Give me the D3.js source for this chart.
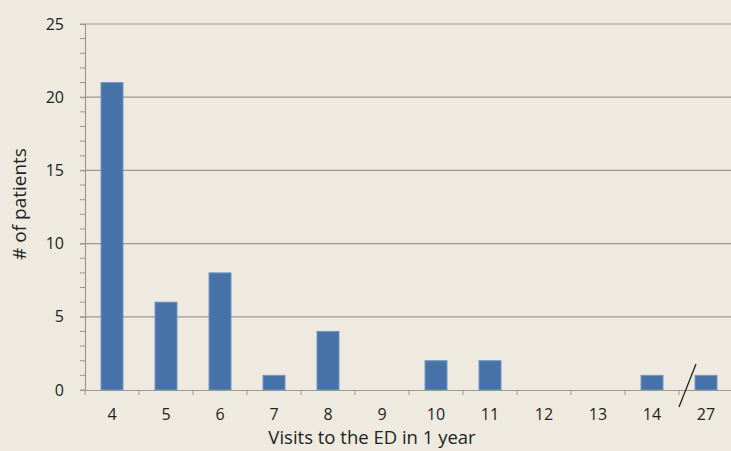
<!DOCTYPE html>
<html>
<head>
<meta charset="utf-8">
<script src="https://cdn.jsdelivr.net/npm/d3@7"></script>
<style>
body { margin: 0; background: #eeeae0; }
svg { display: block; font-family: "Open Sans", sans-serif; }
</style>
</head>
<body>
<svg id="chart" width="731" height="451"></svg>
<script>
// data
var visits = ["4", "5", "6", "7", "8", "9", "10", "11", "12", "13", "14", "27"];
var patients = [21, 6, 8, 1, 4, 0, 2, 2, 0, 0, 1, 1];
var yTicks = [0, 5, 10, 15, 20, 25];

var svg = d3.select("#chart");
var mLeft = 85, mRight = 733, mTop = 24, mBottom = 390;
var axisColor = "#9a9892";

var x = d3.scaleBand().domain(visits).range([mLeft, mRight]);
var y = d3.scaleLinear().domain([0, 25]).range([mBottom, mTop]);

// gridlines
svg.append("g").selectAll("line")
	.data(yTicks.slice(1))
	.enter().append("line")
		.attr("x1", mLeft).attr("x2", 731)
		.attr("y1", function(d) {return y(d);})
		.attr("y2", function(d) {return y(d);})
		.attr("stroke", axisColor)
		.attr("stroke-width", 1.2)
;

// minor ticks on y axis
svg.append("g").selectAll("line")
	.data(d3.range(0, 26))
	.enter().append("line")
		.attr("x1", mLeft - 5).attr("x2", mLeft)
		.attr("y1", function(d) {return y(d);})
		.attr("y2", function(d) {return y(d);})
		.attr("stroke", axisColor)
;

// y axis
var yAxis = svg.append("g")
	.attr("transform", "translate(" + mLeft + ",0)")
	.call(d3.axisLeft(y).tickValues(yTicks).tickSize(5).tickPadding(16));
yAxis.attr("font-family", "Open Sans, sans-serif").attr("font-size", 16);
yAxis.select(".domain").attr("stroke", axisColor).attr("stroke-width", 1.2);
yAxis.selectAll(".tick line").attr("stroke", axisColor);
yAxis.selectAll(".tick text").attr("fill", "#222");

// bars
svg.append("g").selectAll("rect")
	.data(patients)
	.enter().append("rect")
		.attr("x", function(d, i) {return x(visits[i]) + x.bandwidth()/2 - 11;})
		.attr("width", 22)
		.attr("y", function(d) {return y(d);})
		.attr("height", function(d) {return y(0) - y(d);})
		.attr("fill", "#4672a8")
		.attr("stroke", "#7097c4")
		.attr("stroke-width", 1)
;

// x axis
var xAxis = svg.append("g")
	.attr("transform", "translate(0," + mBottom + ")")
	.call(d3.axisBottom(x).tickSize(0).tickPadding(19));
xAxis.attr("font-family", "Open Sans, sans-serif").attr("font-size", 16);
xAxis.select(".domain").attr("stroke", axisColor).attr("stroke-width", 1.2);
xAxis.selectAll(".tick text").attr("fill", "#222");

// category boundary ticks
svg.append("g").selectAll("line")
	.data(visits)
	.enter().append("line")
		.attr("x1", function(d) {return x(d);})
		.attr("x2", function(d) {return x(d);})
		.attr("y1", mBottom).attr("y2", mBottom + 5)
		.attr("stroke", axisColor)
;

// axis break mark between 14 and 27
var bx = x("27") + 8;
svg.append("line")
	.attr("x1", bx - 8).attr("y1", 407)
	.attr("x2", bx + 9).attr("y2", 364)
	.attr("stroke", "#222")
	.attr("stroke-width", 1.3)
;

// titles
svg.append("text")
	.attr("x", 372).attr("y", 444)
	.attr("text-anchor", "middle")
	.attr("font-size", 18.5)
	.attr("fill", "#222")
	.text("Visits to the ED in 1 year")
;
svg.append("text")
	.attr("transform", "translate(26,204) rotate(-90)")
	.attr("text-anchor", "middle")
	.attr("font-size", 19)
	.attr("fill", "#222")
	.text("# of patients")
;
</script>
</body>
</html>
